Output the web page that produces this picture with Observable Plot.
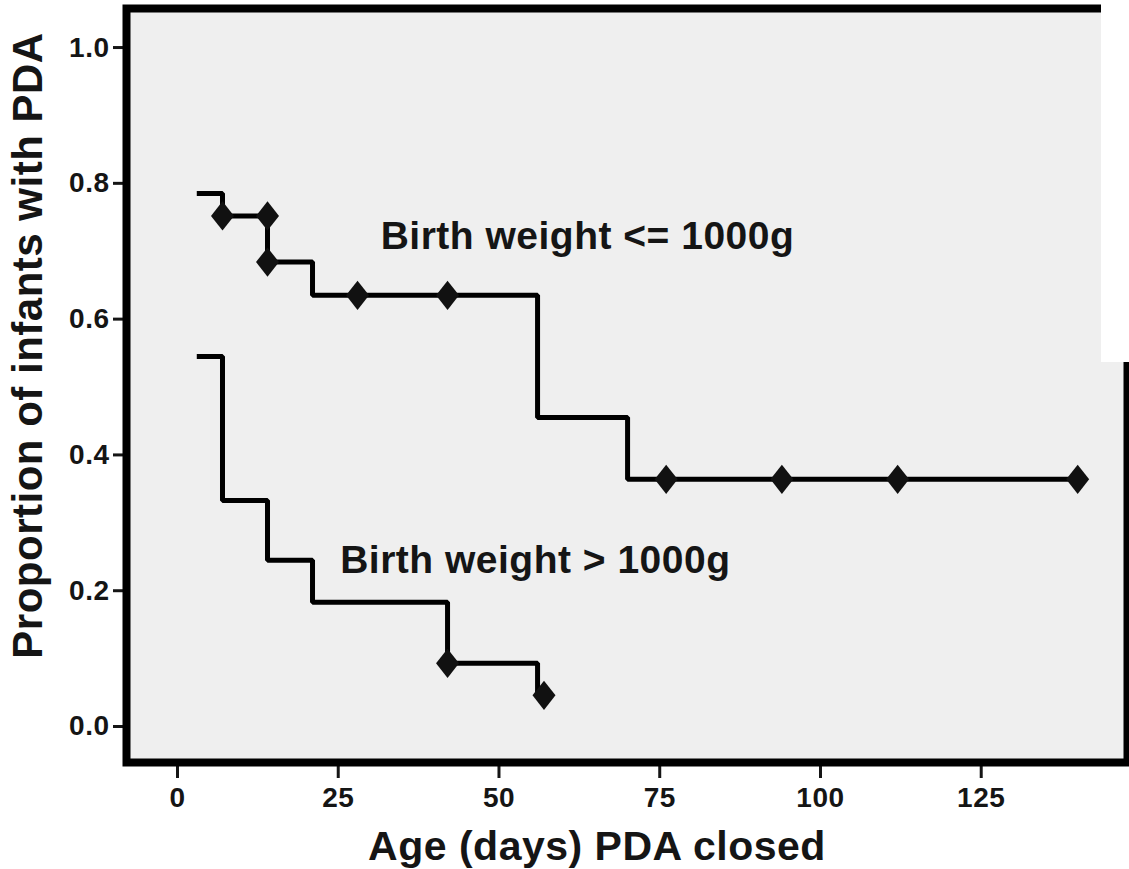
<!DOCTYPE html>
<html>
<head>
<meta charset="utf-8">
<script src="https://cdn.jsdelivr.net/npm/d3@7"></script>
<script src="https://cdn.jsdelivr.net/npm/@observablehq/plot@0.6"></script>
<style>
  body { margin: 0; background: #fff; }
  #chart { position: relative; width: 1129px; height: 869px; }
  /* white strip over the upper right corner of the frame */
  #chart .corner { position: absolute; left: 1101px; top: 0; width: 28px; height: 362px; background: #fff; }
</style>
</head>
<body>
<div id="chart"></div>
<script>
// Kaplan–Meier style curves: proportion of infants with an open PDA by age (days)
const lowDays  = [3, 7, 14, 21, 56, 70, 140];            // birth weight <= 1000 g
const lowProp  = [0.785, 0.752, 0.684, 0.635, 0.455, 0.364, 0.364];
const lowCensorDays = [7, 14, 14, 28, 42, 76, 94, 112, 140];
const lowCensorProp = [0.752, 0.752, 0.684, 0.635, 0.635, 0.364, 0.364, 0.364, 0.364];

const highDays = [3, 7, 14, 21, 42, 56, 57];              // birth weight > 1000 g
const highProp = [0.545, 0.333, 0.245, 0.183, 0.093, 0.046, 0.046];
const highCensorDays = [42, 57];
const highCensorProp = [0.093, 0.046];

const labelText = ["Birth weight <= 1000g", "Birth weight > 1000g"];
const labelDay  = [31.6, 25.3];
const labelProp = [0.722, 0.245];

const xTicks = [0, 25, 50, 75, 100, 125];
const yTicks = [0, 0.2, 0.4, 0.6, 0.8, 1.0];

const zip = (xs, ys) => xs.map((x, i) => ({x, y: ys[i]}));
const lowStep = zip(lowDays, lowProp);
const highStep = zip(highDays, highProp);
const censored = [...zip(lowCensorDays, lowCensorProp), ...zip(highCensorDays, highCensorProp)];
const labels = labelText.map((t, i) => ({t, x: labelDay[i], y: labelProp[i]}));

// diamond a little taller than wide
const diamond = {
  draw(ctx, size) {
    const r = Math.sqrt(size / Math.PI);
    const w = r * 0.92, h = r * 1.17;
    ctx.moveTo(0, -h); ctx.lineTo(w, 0); ctx.lineTo(0, h); ctx.lineTo(-w, 0); ctx.closePath();
  }
};

const font = "'Liberation Sans', Arial, Helvetica, sans-serif";

const chart = Plot.plot({
  width: 1129,
  height: 869,
  marginLeft: 126,
  marginRight: 2,
  marginTop: 8,
  marginBottom: 107,
  style: {fontFamily: font, fontSize: "28px", fontWeight: "bold", letterSpacing: "0.5px", color: "#151515", background: "transparent", overflow: "visible"},
  x: {domain: [-7.93, 147.75], label: null},
  y: {domain: [-0.053, 1.0575], label: null},
  marks: [
    Plot.frame({fill: "#efefef", stroke: "none"}),
    Plot.axisX({ticks: xTicks, tickSize: 16, tickPadding: 9, strokeWidth: 3, label: null}),
    Plot.axisY({ticks: yTicks, tickFormat: ".1f", tickSize: 13, tickPadding: 4, strokeWidth: 3, label: null}),
    Plot.line(lowStep, {x: "x", y: "y", curve: "step-after", stroke: "#000", strokeWidth: 5, strokeLinejoin: "miter", strokeLinecap: "butt"}),
    Plot.line(highStep, {x: "x", y: "y", curve: "step-after", stroke: "#000", strokeWidth: 5, strokeLinejoin: "miter", strokeLinecap: "butt"}),
    Plot.dot(censored, {x: "x", y: "y", r: 12.5, symbol: diamond, fill: "#111", stroke: "none"}),
    Plot.text(labels, {x: "x", y: "y", text: "t", textAnchor: "start", lineAnchor: "middle", fontSize: 39, fontWeight: "bold", fill: "#151515", style: "letter-spacing:1px"}),
    Plot.text(["Age (days) PDA closed"], {frameAnchor: "bottom", textAnchor: "middle", dx: -30, dy: 84, lineAnchor: "middle", fontSize: 41, fontWeight: "bold", fill: "#151515"}),
    Plot.text(["Proportion of infants with PDA"], {frameAnchor: "left", textAnchor: "middle", rotate: -90, dx: -98, dy: -40, lineAnchor: "middle", fontSize: 42, fontWeight: "bold", fill: "#151515"}),
    Plot.frame({stroke: "#000", strokeWidth: 8})
  ]
});

const host = document.getElementById("chart");
host.appendChild(chart);
const corner = document.createElement("div");
corner.className = "corner";
host.appendChild(corner);
</script>
</body>
</html>
